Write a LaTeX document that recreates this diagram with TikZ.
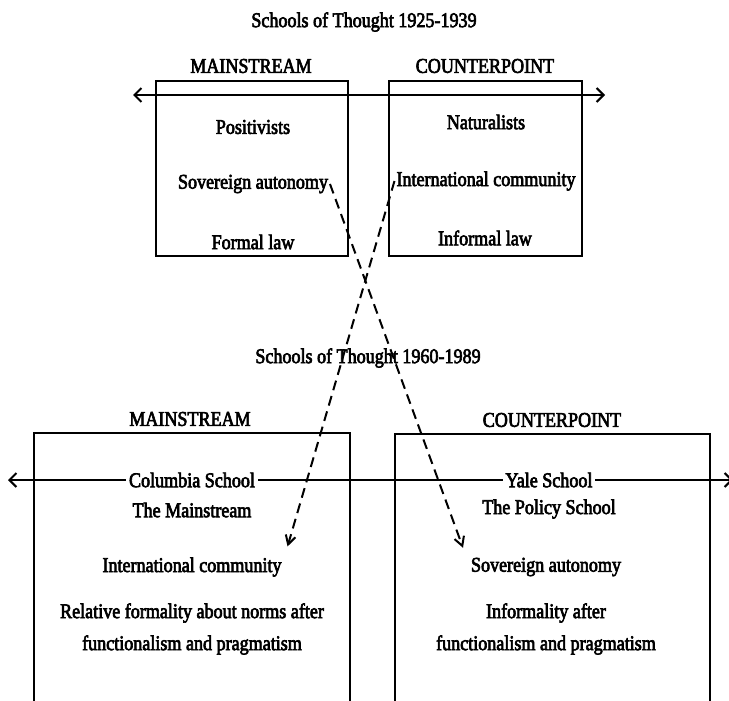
\documentclass[tikz,border=0pt]{standalone}
\usepackage{fontspec}
\usetikzlibrary{arrows.meta}
\setmainfont[FakeStretch=0.86,FakeBold=3]{Liberation Serif}
\begin{document}
\begin{tikzpicture}[x=1pt, y=-1pt, line width=2pt, >={Straight Barb[length=7pt,width=14pt]}, main/.style = {font=\fontsize{21}{24}\selectfont, inner sep=1pt}, gap/.style = {main, fill=white, inner sep=3pt}, link/.style = {dash pattern=on 10pt off 6pt, -{Straight Barb[length=9pt,width=10pt]}}]
			\useasboundingbox (0,0) rectangle (729,701);
			
			% 1925-1939
			\node[main] (t1) at (364,22) {Schools of Thought 1925-1939};
			\node[main] (m1) at (251,66) {MAINSTREAM};
			\node[main] (c1) at (485,66) {COUNTERPOINT};
			\draw (156,81) rectangle (348,256);
			\draw (389,81) rectangle (582,256);
			\coordinate (l1) at (133,95);
			\coordinate (r1) at (605,95);
			\draw[<->] (l1) -- (r1);
			
			\node[main] (pos) at (253,127) {Positivists};
			\node[main] (sa1) at (253,184) {Sovereign autonomy};
			\node[main] (fl) at (253,242) {Formal law};
			\node[main] (nat) at (486,122) {Naturalists};
			\node[main] (ic1) at (486,181) {International community};
			\node[main] (il) at (485,238) {Informal law};
			
			% 1960-1989
			\node[main] (t2) at (368,358) {Schools of Thought 1960-1989};
			\node[main] (m2) at (190,419) {MAINSTREAM};
			\node[main] (c2) at (552,420) {COUNTERPOINT};
			\draw (34,701) -- (34,433) -- (350,433) -- (350,701);
			\draw (395,701) -- (395,434) -- (710,434) -- (710,701);
			\coordinate (l2) at (8,480);
			\coordinate (r2) at (733,480);
			\draw[<->] (l2) -- (r2);
			
			\node[gap] (cs) at (192,480) {Columbia School};
			\node[main] (tm) at (192,510) {The Mainstream};
			\node[main] (ic2) at (192,567) {International community};
			\node[main] (rf) at (192,613) {Relative formality about norms after};
			\node[main] (fp1) at (192,645) {functionalism and pragmatism};
			\node[gap] (ys) at (549,480) {Yale School};
			\node[main] (ps) at (549,509) {The Policy School};
			\node[main] (sa2) at (546,567) {Sovereign autonomy};
			\node[main] (ia) at (546,613) {Informality after};
			\node[main] (fp2) at (546,645) {functionalism and pragmatism};
			
			\draw[link] (sa1.east) -- ([xshift=-6pt,yshift=8pt]sa2.north west);
			\draw[link] (ic1.west) -- ([xshift=4pt,yshift=9pt]ic2.north east);
			
		\end{tikzpicture}
\end{document}
